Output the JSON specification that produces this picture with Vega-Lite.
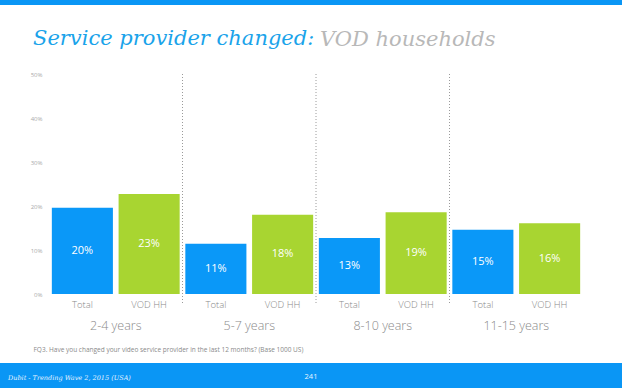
{
  "$schema": "https://vega.github.io/schema/vega-lite/v6.json",
  "padding": 0,
  "background": "white",
  "bounds": "flush",
  "spacing": 69,
  "config": {"view": {"stroke": null}, "font": "Open Sans"},
  "datasets": {
    "bars": [
      {"group": "2-4 years", "series": "Total", "value": 0.196},
      {"group": "2-4 years", "series": "VOD HH", "value": 0.227},
      {"group": "5-7 years", "series": "Total", "value": 0.114},
      {"group": "5-7 years", "series": "VOD HH", "value": 0.18},
      {"group": "8-10 years", "series": "Total", "value": 0.127},
      {"group": "8-10 years", "series": "VOD HH", "value": 0.186},
      {"group": "11-15 years", "series": "Total", "value": 0.146},
      {"group": "11-15 years", "series": "VOD HH", "value": 0.161}
    ],
    "separators": [
      {"group": "5-7 years"},
      {"group": "8-10 years"},
      {"group": "11-15 years"}
    ]
  },
  "vconcat": [
    {
      "width": 622,
      "height": 5,
      "view": {"fill": "#0a96f5", "stroke": null},
      "title": {
        "text": "VOD households",
        "orient": "top",
        "anchor": "start",
        "frame": "group",
        "dx": 320,
        "offset": -67,
        "baseline": "alphabetic",
        "font": "DejaVu Serif",
        "fontStyle": "italic",
        "fontWeight": "normal",
        "fontSize": 21,
        "color": "#b8b8b8"
      },
      "data": {"values": []},
      "mark": "point",
      "encoding": {}
    },
    {
      "width": 583,
      "height": 220,
      "title": {
        "text": "Service provider changed:",
        "orient": "top",
        "anchor": "start",
        "frame": "group",
        "dx": 33,
        "offset": 5,
        "baseline": "alphabetic",
        "font": "DejaVu Serif",
        "fontStyle": "italic",
        "fontWeight": "normal",
        "fontSize": 21,
        "color": "#1aa3ea"
      },
      "data": {"name": "bars"},
      "layer": [
        {
          "mark": {"type": "bar"},
          "encoding": {
            "x": {
              "field": "group",
              "type": "nominal",
              "sort": null,
              "scale": {"domain": ["2-4 years", "5-7 years", "8-10 years", "11-15 years"], "paddingInner": 0, "paddingOuter": 0, "rangeMin": 49},
              "axis": {
                "labelAngle": 0,
                "labelPadding": 25,
                "labelFontSize": 12.5,
                "labelFontWeight": 300,
                "labelColor": "#8a8a8a",
                "labelBaseline": "top",
                "ticks": false,
                "domain": false,
                "grid": false,
                "title": "FQ3. Have you changed your video service provider in the last 12 months? (Base 1000 US)",
                "titleFontSize": 6.5,
                "titleFontWeight": "normal",
                "titleColor": "#8a8a8a",
                "titleAnchor": "start",
                "titleAlign": "left",
                "titleX": 33,
                "titleY": 57,
                "titleBaseline": "alphabetic"
              }
            },
            "xOffset": {
              "field": "series",
              "type": "nominal",
              "scale": {"domain": ["Total", "VOD HH"], "paddingInner": 0.085, "paddingOuter": 0.0425}
            },
            "y": {
              "field": "value",
              "type": "quantitative",
              "scale": {"domain": [0, 0.5]},
              "axis": {
                "values": [0, 0.1, 0.2, 0.3, 0.4, 0.5],
                "format": ".0%",
                "offset": -49,
                "labelFontSize": 6,
                "labelColor": "#aaaaaa",
                "labelPadding": 7,
                "ticks": false,
                "domain": false,
                "grid": false,
                "title": null
              }
            },
            "color": {
              "field": "series",
              "type": "nominal",
              "scale": {"domain": ["Total", "VOD HH"], "range": ["#0a98f8", "#a8d531"]},
              "legend": null
            }
          }
        },
        {
          "mark": {"type": "text", "color": "white", "fontSize": 11, "baseline": "middle"},
          "encoding": {
            "x": {"field": "group", "type": "nominal", "sort": null},
            "xOffset": {"field": "series", "type": "nominal"},
            "y": {"field": "value", "type": "quantitative", "scale": {"domain": [0, 1]}, "axis": null},
            "text": {"field": "value", "type": "quantitative", "format": ".0%"}
          }
        },
        {
          "mark": {"type": "text", "color": "#8a8a8a", "fontSize": 9.5, "fontWeight": 300, "baseline": "middle", "dy": 11},
          "encoding": {
            "x": {"field": "group", "type": "nominal", "sort": null},
            "xOffset": {"field": "series", "type": "nominal"},
            "y": {"datum": 0, "type": "quantitative", "scale": {"domain": [0, 0.5]}, "axis": null},
            "text": {"field": "series", "type": "nominal"}
          }
        },
        {
          "data": {"name": "separators"},
          "mark": {"type": "rule", "color": "#9a9a9a", "strokeDash": [1, 2], "strokeWidth": 1},
          "encoding": {
            "x": {"field": "group", "type": "nominal", "bandPosition": 0},
            "y": {"datum": 0.5, "type": "quantitative", "scale": {"domain": [0, 0.5]}, "axis": null},
            "y2": {"datum": -0.025}
          }
        }
      ],
      "resolve": {"scale": {"y": "independent"}, "axis": {"y": "independent"}}
    },
    {
      "width": 622,
      "height": 25,
      "view": {"fill": "#0a96f5", "stroke": null},
      "title": {
        "text": "Dubit - Trending Wave 2, 2015 (USA)",
        "orient": "top",
        "anchor": "start",
        "frame": "group",
        "dx": 8,
        "offset": -23,
        "baseline": "alphabetic",
        "font": "DejaVu Serif",
        "fontStyle": "italic",
        "fontWeight": "normal",
        "fontSize": 6.5,
        "color": "#e6f3ff"
      },
      "data": {"values": [{"page": "241"}]},
      "mark": {"type": "text", "color": "#eaf5ff", "fontSize": 7.5, "baseline": "middle", "dy": 1.5},
      "encoding": {"text": {"field": "page", "type": "nominal"}}
    }
  ]
}
